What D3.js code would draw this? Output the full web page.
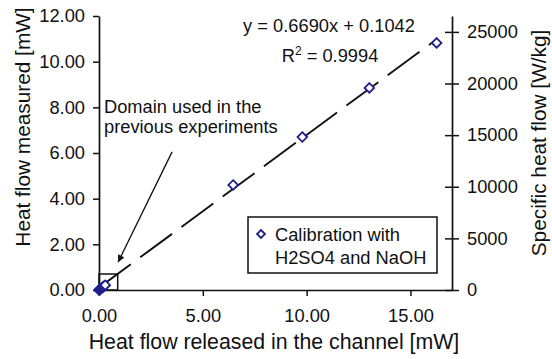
<!DOCTYPE html>
<html>
<head>
<meta charset="utf-8">
<script src="https://cdn.jsdelivr.net/npm/d3@7"></script>
<style>
  html, body { margin: 0; padding: 0; background: #ffffff; }
  svg { display: block; }
  text { font-family: "Liberation Sans", Arial, Helvetica, sans-serif; fill: #111; }
</style>
</head>
<body>
<svg id="chart" width="552" height="359"></svg>
<script>
// ---------------- data ----------------
const releasedHeat = [0.00, 0.04, 0.08, 0.12, 0.16, 0.20, 0.25, 0.30, 6.46, 9.79, 13.02, 16.26];
const measuredHeat = [0.00, 0.03, 0.05, 0.08, 0.11, 0.14, 0.17, 0.21, 4.60, 6.70, 8.85, 10.82];
const xTicks = [0, 5, 10, 15];
const yTicks = [0, 2, 4, 6, 8, 10, 12];
const y2Ticks = [0, 5000, 10000, 15000, 20000, 25000];
const xDomain = [0, 17];
const yDomain = [0, 12];
const y2Domain = [0, 26540];
const fitSlope = 0.6690;
const fitIntercept = 0.1042;
const fitR2 = "0.9994";
const prevDomainBox = [0.9, 0.7];          // x-extent, y-extent of the small box (mW)
const arrowFrom = [3.52, 6.05];            // arrow tail (data units)
const arrowTo = [0.92, 1.22];              // arrow head (data units)
const xTitle = "Heat flow released in the channel [mW]";
const yTitle = "Heat flow measured [mW]";
const y2Title = "Specific heat flow [W/kg]";
const noteLines = ["Domain used in the", "previous experiments"];
const legendLines = ["Calibration with", "H2SO4 and NaOH"];

// ---------------- layout ----------------
const svg = d3.select("#chart");
const L = 99, R = 452, T = 16, B = 290;
const x = d3.scaleLinear().domain(xDomain).range([L, R]);
const y = d3.scaleLinear().domain(yDomain).range([B, T]);
const y2 = d3.scaleLinear().domain(y2Domain).range([B, T]);
const navy = "#1e1e8c";
const fs = 18.3;

// axes
const axisStyle = g => {
  g.selectAll(".domain").attr("stroke", "#111").attr("stroke-width", 1.7);
  g.selectAll(".tick line").attr("stroke", "#111").attr("stroke-width", 1.5);
  g.selectAll(".tick text").attr("font-size", fs).attr("fill", "#111")
    .attr("font-family", "Liberation Sans, Arial, sans-serif");
};

svg.append("g").attr("transform", `translate(0,${B})`)
  .call(d3.axisBottom(x).tickValues(xTicks).tickFormat(d3.format(".2f"))
    .tickSizeInner(6).tickSizeOuter(0).tickPadding(13))
  .call(axisStyle);

svg.append("g").attr("transform", `translate(${L},0)`)
  .call(d3.axisLeft(y).tickValues(yTicks).tickFormat(d3.format(".2f"))
    .tickSizeInner(6).tickSizeOuter(0).tickPadding(8))
  .call(axisStyle);

const rAxis = svg.append("g").attr("transform", `translate(${R},0)`)
  .call(d3.axisRight(y2).tickValues(y2Ticks).tickFormat(d3.format("d"))
    .tickSizeInner(7).tickSizeOuter(0).tickPadding(8))
  .call(axisStyle);
rAxis.selectAll(".tick line").attr("x1", -7);

// titles
svg.append("text").attr("x", 274).attr("y", 349)
  .attr("text-anchor", "middle").attr("font-size", 21.3).text(xTitle);
svg.append("text").attr("transform", "translate(30,127) rotate(-90)")
  .attr("text-anchor", "middle").attr("font-size", 20.8).text(yTitle);
svg.append("text").attr("transform", "translate(546,143) rotate(-90)")
  .attr("text-anchor", "middle").attr("font-size", 20.8).text(y2Title);

// small box for previous domain
svg.append("rect")
  .attr("x", x(0)).attr("y", y(prevDomainBox[1]))
  .attr("width", x(prevDomainBox[0]) - x(0))
  .attr("height", y(0) - y(prevDomainBox[1]))
  .attr("fill", "none").attr("stroke", "#111").attr("stroke-width", 1.5);

// trend line
const xMax = d3.max(releasedHeat);
svg.append("line")
  .attr("x1", x(0)).attr("y1", y(fitIntercept))
  .attr("x2", x(xMax)).attr("y2", y(fitSlope * xMax + fitIntercept))
  .attr("stroke", "#111").attr("stroke-width", 1.9)
  .attr("stroke-dasharray", "39.5,11.7");

// arrow
const defs = svg.append("defs");
defs.append("marker").attr("id", "ah").attr("viewBox", "0 0 10 10")
  .attr("refX", 10).attr("refY", 5).attr("markerWidth", 9).attr("markerHeight", 7)
  .attr("markerUnits", "userSpaceOnUse").attr("orient", "auto")
  .append("path").attr("d", "M0,0 L10,5 L0,10 Z").attr("fill", "#111");
svg.append("line")
  .attr("x1", x(arrowFrom[0])).attr("y1", y(arrowFrom[1]))
  .attr("x2", x(arrowTo[0])).attr("y2", y(arrowTo[1]))
  .attr("stroke", "#111").attr("stroke-width", 1.3)
  .attr("marker-end", "url(#ah)");

// points
const diamond = s => `M0,${-s} L${s},0 L0,${s} L${-s},0 Z`;
svg.append("g").selectAll("path").data(releasedHeat.map((v, i) => [v, measuredHeat[i]]))
  .join("path")
  .attr("transform", d => `translate(${x(d[0])},${y(d[1])})`)
  .attr("d", diamond(4.8))
  .attr("fill", "#fff").attr("stroke", navy).attr("stroke-width", 1.8);

// equation
svg.append("text").attr("x", 329).attr("y", 32).attr("text-anchor", "middle")
  .attr("font-size", fs).text(`y = ${fitSlope.toFixed(4)}x + ${fitIntercept.toFixed(4)}`);
const r2 = svg.append("text").attr("x", 330).attr("y", 62).attr("text-anchor", "middle")
  .attr("font-size", fs);
r2.append("tspan").text("R");
r2.append("tspan").attr("dy", -7).attr("font-size", 12).text("2");
r2.append("tspan").attr("dy", 7).text(` = ${fitR2}`);

// note
svg.append("text").attr("font-size", fs).selectAll("tspan").data(noteLines).join("tspan")
  .attr("x", 104).attr("y", (d, i) => 113 + i * 20).text(d => d);

// legend
svg.append("rect").attr("x", 248).attr("y", 217).attr("width", 189).attr("height", 56)
  .attr("fill", "#fff").attr("stroke", "#111").attr("stroke-width", 1.5);
svg.append("path").attr("transform", "translate(261,234)").attr("d", diamond(4))
  .attr("fill", "#fff").attr("stroke", navy).attr("stroke-width", 1.8);
svg.append("text").attr("font-size", fs).selectAll("tspan").data(legendLines).join("tspan")
  .attr("x", 275).attr("y", (d, i) => 241 + i * 23).text(d => d);
</script>
</body>
</html>
